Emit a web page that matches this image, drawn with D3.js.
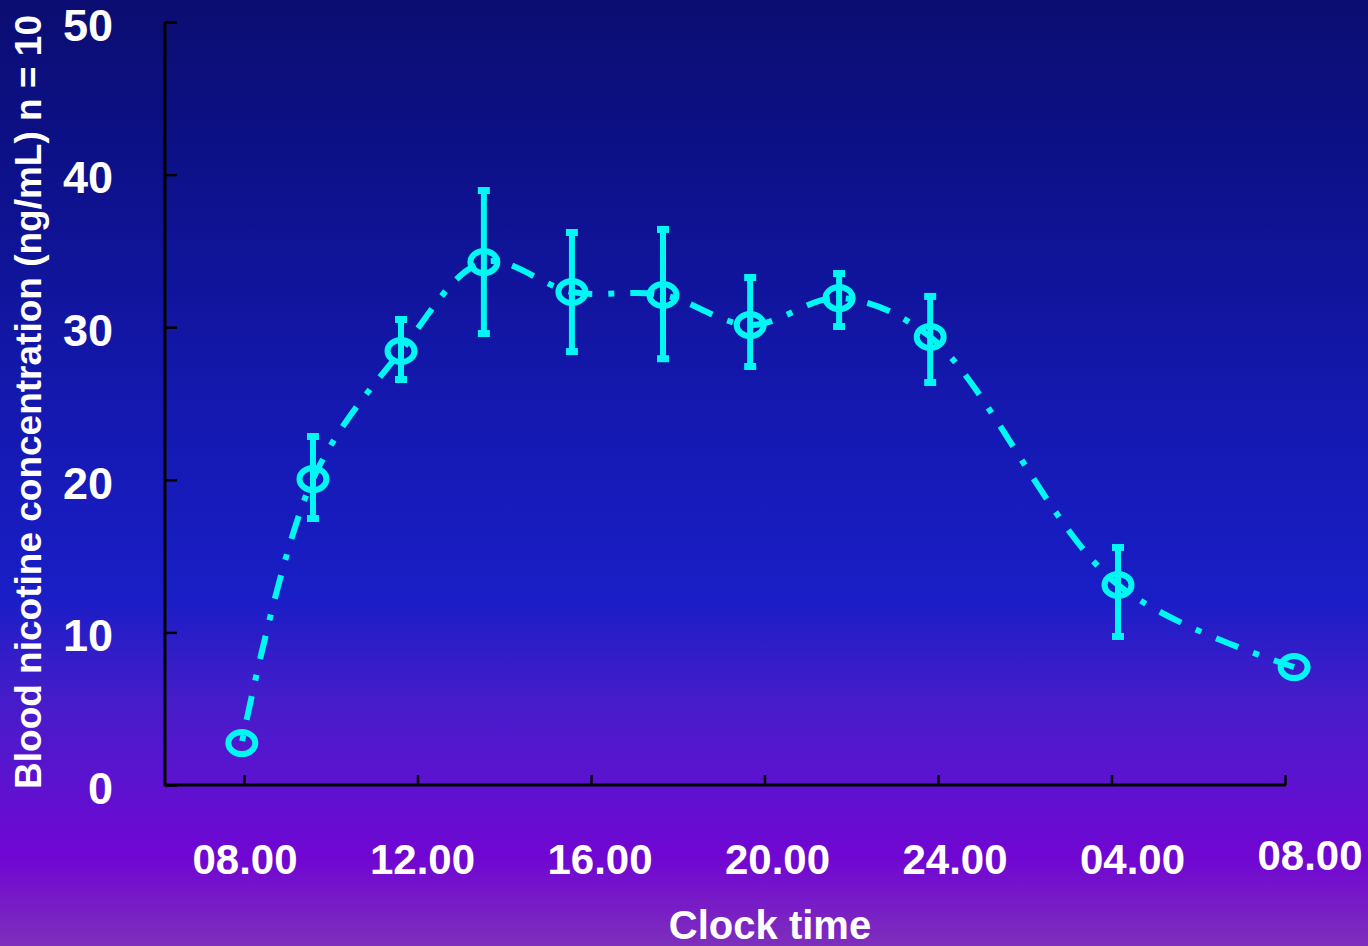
<!DOCTYPE html>
<html lang="en">
  <head>
    <meta charset="utf-8">
    <title>Blood nicotine concentration</title>
    <style type="text/css">
      body{
        margin: 0;
        padding: 0;
        overflow: hidden;
      }
      svg{
        display: block;
        font-family: "Liberation Sans", Arial, sans-serif;
        font-weight: bold;
      }
    </style>
  </head>
  <body>
    <div id='chart'></div>

    <script src="https://d3js.org/d3.v7.min.js"></script>
    <script type="text/javascript">

      // clock hours (08.00 = 8, next morning 08.00 = 32)
      const hours = [7.95, 9.59, 11.62, 13.53, 15.56, 17.66, 19.67, 21.72, 23.82, 28.15, 32.21];
      // mean blood nicotine (ng/mL)
      const meanConc = [2.75, 20.05, 28.44, 34.27, 32.31, 32.11, 30.14, 31.91, 29.36, 13.11, 7.73];
      // upper / lower error bar ends, null where no bar is drawn
      const upperConc = [null, 23.0, 30.67, 39.12, 36.37, 36.57, 33.42, 33.68, 32.18, 15.73, null];
      const lowerConc = [null, 17.3, 26.41, 29.42, 28.24, 27.77, 27.26, 29.88, 26.21, 9.57, null];

      const xTickHours = [8, 12, 16, 20, 24, 28, 32];
      const xTickLabels = ['08.00', '12.00', '16.00', '20.00', '24.00', '04.00', '08.00'];
      const yTicks = [0, 10, 20, 30, 40, 50];

      const w = 1368;
      const h = 946;
      const lineColor = '#00f7f4';

      const data = hours.map(function(d, i){
        return {t: d, v: meanConc[i], hi: upperConc[i], lo: lowerConc[i]};
      });

      const svg = d3.select('#chart').append('svg').attr('width', w).attr('height', h);

      // background gradient
      const grad = svg.append('defs').append('linearGradient')
          .attr('id', 'bg').attr('x1', 0).attr('y1', 0).attr('x2', 0).attr('y2', 1);
      [[0, '#0b0d72'], [0.18, '#0d118a'], [0.45, '#1519b2'], [0.63, '#191ec6'],
       [0.74, '#461cca'], [0.83, '#5d12cf'], [0.905, '#7006d2'], [1, '#7e2fbc']].forEach(function(s){
        grad.append('stop').attr('offset', s[0]).attr('stop-color', s[1]);
      });
      svg.append('rect').attr('width', w).attr('height', h).attr('fill', 'url(#bg)');

      const scaleX = d3.scaleLinear().domain([8, 32]).range([244, 1285]);
      const labelX = d3.scaleLinear().domain([8, 32]).range([245, 1310]);
      const scaleY = d3.scaleLinear().domain([0, 50]).range([785, 22]);

      // axes
      const xAxis = d3.axisBottom(scaleX).tickValues(xTickHours).tickSizeInner(-10).tickSizeOuter(0).tickFormat('');
      const yAxis = d3.axisLeft(scaleY).tickValues(yTicks).tickSizeInner(-12).tickSizeOuter(0).tickFormat('');

      const gx = svg.append('g').attr('transform', 'translate(0,785)').call(xAxis);
      gx.select('.domain').remove();
      gx.selectAll('line').attr('stroke', '#000').attr('stroke-width', 2.5);
      gx.append('line').attr('x1', 164).attr('x2', scaleX(32) + 1).attr('y1', 0).attr('y2', 0)
          .attr('stroke', '#000').attr('stroke-width', 3);

      const gy = svg.append('g').attr('transform', 'translate(165,0)').call(yAxis);
      gy.select('.domain').remove();
      gy.selectAll('line').attr('stroke', '#000').attr('stroke-width', 2.5);
      gy.append('line').attr('x1', 0).attr('x2', 0).attr('y1', scaleY(50)).attr('y2', scaleY(0) + 1)
          .attr('stroke', '#000').attr('stroke-width', 3);

      // tick labels
      svg.append('g').selectAll('text').data(xTickHours).enter().append('text')
          .attr('x', (d) => labelX(d)).attr('y', (d, i) => i === xTickHours.length - 1 ? 870 : 874)
          .attr('text-anchor', 'middle').attr('fill', '#fff').style('font-size', '42px')
          .text((d, i) => xTickLabels[i]);

      svg.append('g').selectAll('text').data(yTicks).enter().append('text')
          .attr('x', 113).attr('y', (d) => scaleY(d) + 3).attr('dy', '0.35em')
          .attr('text-anchor', 'end').attr('fill', '#fff').style('font-size', '45px')
          .text((d) => d);

      // axis titles
      svg.append('text').text('Clock time')
          .attr('x', 770).attr('y', 939).attr('text-anchor', 'middle')
          .attr('fill', '#fff').style('font-size', '40px');

      svg.append('text').text('Blood nicotine concentration (ng/mL) n = 10')
          .attr('transform', 'translate(41,402) rotate(-90)').attr('text-anchor', 'middle')
          .attr('fill', '#fff').style('font-size', '37px');

      // error bars
      const bars = data.filter((d) => d.hi !== null);
      const eb = svg.append('g').attr('stroke', lineColor);
      eb.selectAll('.err').data(bars).enter().append('line').attr('class', 'err')
          .attr('x1', (d) => scaleX(d.t)).attr('x2', (d) => scaleX(d.t))
          .attr('y1', (d) => scaleY(d.hi)).attr('y2', (d) => scaleY(d.lo))
          .attr('stroke-width', 6);
      eb.selectAll('.capHi').data(bars).enter().append('line').attr('class', 'capHi')
          .attr('x1', (d) => scaleX(d.t) - 6).attr('x2', (d) => scaleX(d.t) + 6)
          .attr('y1', (d) => scaleY(d.hi) + 2.5).attr('y2', (d) => scaleY(d.hi) + 2.5)
          .attr('stroke-width', 7);
      eb.selectAll('.capLo').data(bars).enter().append('line').attr('class', 'capLo')
          .attr('x1', (d) => scaleX(d.t) - 6).attr('x2', (d) => scaleX(d.t) + 6)
          .attr('y1', (d) => scaleY(d.lo) - 2.5).attr('y2', (d) => scaleY(d.lo) - 2.5)
          .attr('stroke-width', 7);

      // markers
      svg.append('g').selectAll('ellipse').data(data).enter().append('ellipse')
          .attr('cx', (d) => scaleX(d.t)).attr('cy', (d) => scaleY(d.v))
          .attr('rx', 13.5).attr('ry', 11)
          .attr('fill', 'none').attr('stroke', lineColor).attr('stroke-width', 6);

      // dash-dot line
      const line = d3.line().x((d) => scaleX(d.t)).y((d) => scaleY(d.v)).curve(d3.curveCatmullRom.alpha(0.5));
      svg.append('path').datum(data).attr('d', line)
          .attr('fill', 'none').attr('stroke', lineColor).attr('stroke-width', 6)
          .attr('stroke-dasharray', '24,16,6,16').attr('stroke-dashoffset', -24);

    </script>
  </body>
</html>
